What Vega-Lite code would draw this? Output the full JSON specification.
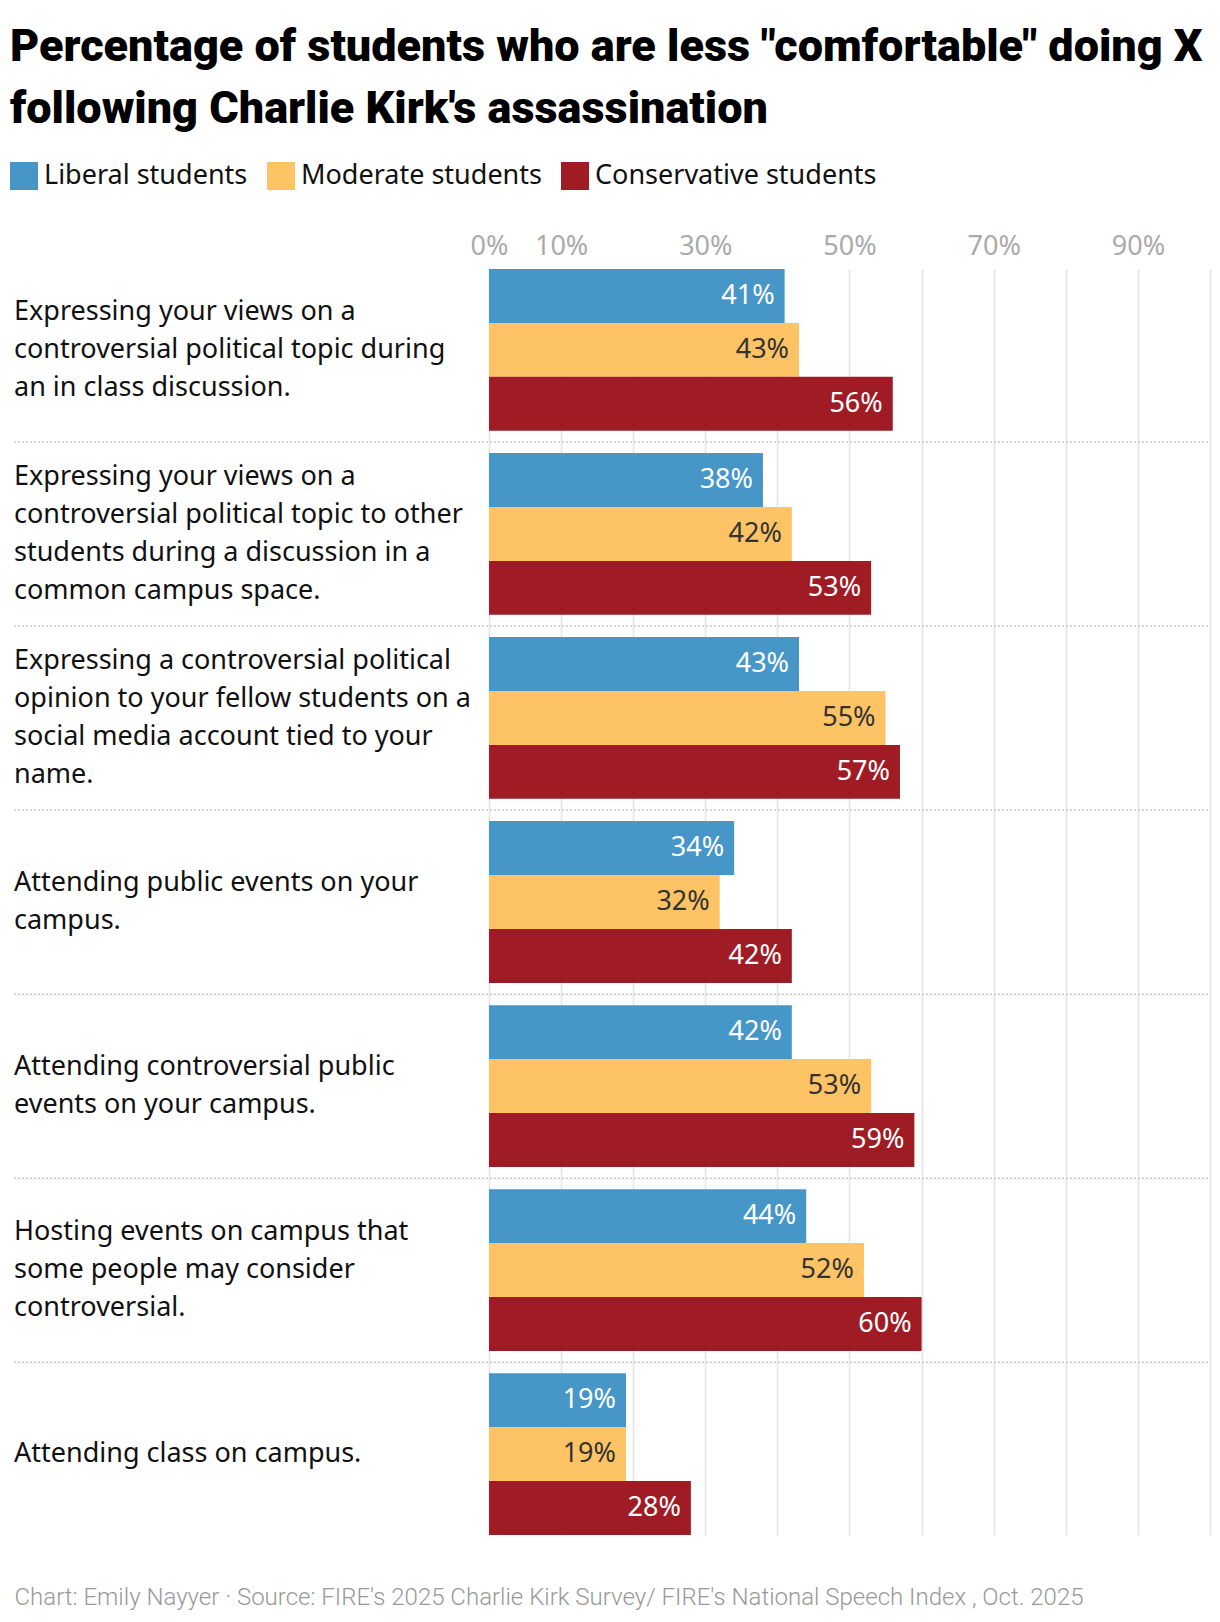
{
  "$schema": "https://vega.github.io/schema/vega-lite/v6.json",
  "description": "Share of students less comfortable doing X after Charlie Kirk's assassination, by political leaning.",
  "width": 1196,
  "height": 1266,
  "padding": {"left": 10, "top": 25, "right": 8, "bottom": 10},
  "autosize": {"type": "pad"},
  "background": "white",
  "title": {
    "text": ["Percentage of students who are less \"comfortable\" doing X", "following Charlie Kirk's assassination"],
    "anchor": "start",
    "font": "Roboto",
    "fontSize": 45,
    "fontWeight": 900,
    "lineHeight": 62,
    "color": "#000000",
    "offset": 30
  },
  "config": {"view": {"stroke": null}, "font": "Noto Sans"},
  "datasets": {
    "questions": [
      {"q": "q1", "n": 1, "label": "Expressing your views on a|controversial political topic during|an in class discussion."},
      {"q": "q2", "n": 2, "label": "Expressing your views on a|controversial political topic to other|students during a discussion in a|common campus space."},
      {"q": "q3", "n": 3, "label": "Expressing a controversial political|opinion to your fellow students on a|social media account tied to your|name."},
      {"q": "q4", "n": 4, "label": "Attending public events on your|campus."},
      {"q": "q5", "n": 5, "label": "Attending controversial public|events on your campus."},
      {"q": "q6", "n": 6, "label": "Hosting events on campus that|some people may consider|controversial."},
      {"q": "q7", "n": 7, "label": "Attending class on campus."}
    ],
    "bars": [
      {"q": "q1", "group": "Liberal students", "value": 0.41},
      {"q": "q1", "group": "Moderate students", "value": 0.43},
      {"q": "q1", "group": "Conservative students", "value": 0.56},
      {"q": "q2", "group": "Liberal students", "value": 0.38},
      {"q": "q2", "group": "Moderate students", "value": 0.42},
      {"q": "q2", "group": "Conservative students", "value": 0.53},
      {"q": "q3", "group": "Liberal students", "value": 0.43},
      {"q": "q3", "group": "Moderate students", "value": 0.55},
      {"q": "q3", "group": "Conservative students", "value": 0.57},
      {"q": "q4", "group": "Liberal students", "value": 0.34},
      {"q": "q4", "group": "Moderate students", "value": 0.32},
      {"q": "q4", "group": "Conservative students", "value": 0.42},
      {"q": "q5", "group": "Liberal students", "value": 0.42},
      {"q": "q5", "group": "Moderate students", "value": 0.53},
      {"q": "q5", "group": "Conservative students", "value": 0.59},
      {"q": "q6", "group": "Liberal students", "value": 0.44},
      {"q": "q6", "group": "Moderate students", "value": 0.52},
      {"q": "q6", "group": "Conservative students", "value": 0.60},
      {"q": "q7", "group": "Liberal students", "value": 0.19},
      {"q": "q7", "group": "Moderate students", "value": 0.19},
      {"q": "q7", "group": "Conservative students", "value": 0.28}
    ]
  },
  "resolve": {"axis": {"x": "independent"}},
  "layer": [
    {
      "data": {"name": "bars"},
      "mark": {"type": "bar"},
      "encoding": {
        "x": {
          "field": "value",
          "type": "quantitative",
          "scale": {"domain": [-0.6588, 1], "nice": false},
          "axis": {
            "orient": "top",
            "values": [0, 0.1, 0.2, 0.3, 0.4, 0.5, 0.6, 0.7, 0.8, 0.9, 1],
            "format": ".0%",
            "labelExpr": "indexof(['0%','10%','30%','50%','70%','90%'], datum.label) >= 0 ? datum.label : ''",
            "labelOverlap": false,
            "labelFlush": false,
            "labelFontSize": 27,
            "labelColor": "#aaaaaa",
            "labelBaseline": "alphabetic",
            "labelPadding": 15,
            "grid": true,
            "gridColor": "#e3e3e3",
            "gridWidth": 1.5,
            "ticks": false,
            "domain": false,
            "title": null
          }
        },
        "y": {
          "field": "q",
          "type": "nominal",
          "scale": {"paddingInner": 0.121, "paddingOuter": 0},
          "axis": null
        },
        "yOffset": {
          "field": "group",
          "type": "nominal",
          "sort": ["Liberal students", "Moderate students", "Conservative students"],
          "scale": {"paddingInner": 0, "paddingOuter": 0}
        },
        "color": {
          "field": "group",
          "type": "nominal",
          "scale": {
            "domain": ["Liberal students", "Moderate students", "Conservative students"],
            "range": ["#4796c8", "#fec364", "#9f1c24"]
          },
          "legend": {
            "orient": "none",
            "legendX": -4,
            "legendY": -107,
            "direction": "horizontal",
            "title": null,
            "symbolType": "square",
            "symbolSize": 784,
            "symbolStrokeWidth": 0,
            "symbolOpacity": 1,
            "labelFontSize": 27,
            "labelOffset": 6,
            "labelLimit": 500,
            "labelColor": "#111111",
            "columnPadding": 19
          }
        }
      }
    },
    {
      "data": {"name": "bars"},
      "mark": {"type": "text", "align": "right", "baseline": "middle", "dx": -10, "fontSize": 27},
      "encoding": {
        "x": {"field": "value", "type": "quantitative", "axis": null},
        "y": {"field": "q", "type": "nominal", "axis": null},
        "yOffset": {"field": "group", "type": "nominal", "sort": ["Liberal students", "Moderate students", "Conservative students"]},
        "text": {"field": "value", "type": "quantitative", "format": ".0%"},
        "color": {"condition": {"test": "datum.group == 'Moderate students'", "value": "#333333"}, "value": "#ffffff"}
      }
    },
    {
      "data": {"name": "questions"},
      "transform": [{"filter": "datum.n > 1"}],
      "mark": {"type": "rule", "color": "#c8c8c8", "strokeWidth": 1.5, "strokeDash": [2, 2], "yOffset": -11},
      "encoding": {
        "x": {"datum": -0.6588, "axis": null},
        "x2": {"datum": 1},
        "y": {"field": "q", "type": "nominal", "bandPosition": 0, "axis": null}
      }
    },
    {
      "data": {"name": "questions"},
      "transform": [{"filter": "length(split(datum.label, '|')) == 1"}],
      "mark": {"type": "text", "align": "left", "baseline": "middle", "lineBreak": "|", "lineHeight": 38, "fontSize": 27, "color": "#111111"},
      "encoding": {
        "x": {"datum": -0.6588, "axis": null},
        "y": {"field": "q", "type": "nominal", "axis": null},
        "text": {"field": "label"}
      }
    },
    {
      "data": {"name": "questions"},
      "transform": [{"filter": "length(split(datum.label, '|')) == 2"}],
      "mark": {"type": "text", "align": "left", "baseline": "middle", "lineBreak": "|", "lineHeight": 38, "fontSize": 27, "color": "#111111", "dy": -19},
      "encoding": {
        "x": {"datum": -0.6588, "axis": null},
        "y": {"field": "q", "type": "nominal", "axis": null},
        "text": {"field": "label"}
      }
    },
    {
      "data": {"name": "questions"},
      "transform": [{"filter": "length(split(datum.label, '|')) == 3"}],
      "mark": {"type": "text", "align": "left", "baseline": "middle", "lineBreak": "|", "lineHeight": 38, "fontSize": 27, "color": "#111111", "dy": -38},
      "encoding": {
        "x": {"datum": -0.6588, "axis": null},
        "y": {"field": "q", "type": "nominal", "axis": null},
        "text": {"field": "label"}
      }
    },
    {
      "data": {"name": "questions"},
      "transform": [{"filter": "length(split(datum.label, '|')) == 4"}],
      "mark": {"type": "text", "align": "left", "baseline": "middle", "lineBreak": "|", "lineHeight": 38, "fontSize": 27, "color": "#111111", "dy": -57},
      "encoding": {
        "x": {"datum": -0.6588, "axis": null},
        "y": {"field": "q", "type": "nominal", "axis": null},
        "text": {"field": "label"}
      }
    },
    {
      "mark": {"type": "rule", "color": "#333333", "strokeWidth": 2},
      "encoding": {
        "x": {
          "datum": 0,
          "axis": {
            "orient": "bottom",
            "labels": false,
            "ticks": false,
            "domain": false,
            "grid": false,
            "title": "Chart: Emily Nayyer  · Source: FIRE's 2025 Charlie Kirk Survey/ FIRE's National Speech Index , Oct. 2025",
            "titleAnchor": "start",
            "titleFont": "Roboto",
            "titleFontWeight": 300,
            "titleFontSize": 24,
            "titleColor": "#999999",
            "titlePadding": 50
          }
        }
      }
    }
  ]
}
